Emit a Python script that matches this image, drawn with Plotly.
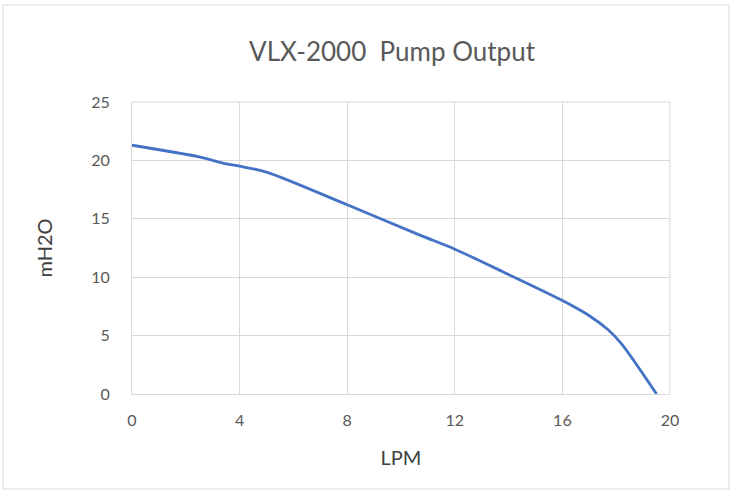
import plotly.graph_objects as go

# Data
lpm = [0, 2.5, 3.5, 4, 5, 8, 10.7, 12, 13.8, 16, 17.0, 17.7, 18.2, 19.5]
mh2o = [21.3, 20.3, 19.7, 19.5, 19.0, 16.2, 13.6, 12.4, 10.45, 8.0, 6.7, 5.5, 4.3, 0.0]

x_ticks = [0, 4, 8, 12, 16, 20]
y_ticks = [0, 5, 10, 15, 20, 25]

title_text = "VLX-2000  Pump Output"
x_title = "LPM"
y_title = "mH2O"

W, H = 731, 491
L, R, T, B = 132, 61, 102, 97
pw = W - L - R
ph = H - T - B

font_family = "Lato, 'Open Sans', sans-serif"
gray = "#595959"
grid = "#d9d9d9"

fig = go.Figure()
fig.add_trace(go.Scatter(
    x=lpm, y=mh2o, mode="lines",
    line=dict(color="#4472C4", width=2.8, shape="spline", smoothing=0.8),
    showlegend=False, hoverinfo="x+y",
))

# outer chart border (pixel positions converted to paper coordinates)
bx0 = (3 - L) / pw
bx1 = (729 - L) / pw
by1 = (H - B - 5) / ph
by0 = (H - B - 489) / ph
fig.add_shape(type="rect", xref="paper", yref="paper",
              x0=bx0, x1=bx1, y0=by0, y1=by1,
              line=dict(color="#d9d9d9", width=1), fillcolor="rgba(0,0,0,0)",
              layer="below")

fig.update_layout(
    width=W, height=H,
    margin=dict(l=L, r=R, t=T, b=B, pad=0),
    paper_bgcolor="white", plot_bgcolor="white",
    font=dict(family=font_family, color=gray, size=16),
    title=dict(text=title_text, x=(392 - L) / pw, xref="paper", xanchor="center",
               y=(H - 52) / H, yanchor="middle", yref="container",
               font=dict(size=26, color=gray, family=font_family)),
)

fig.update_xaxes(
    range=[0, 20], tickvals=x_ticks, ticktext=[str(v) for v in x_ticks],
    showgrid=True, gridcolor=grid, gridwidth=1,
    showline=True, linecolor=grid, linewidth=1, mirror=False,
    zeroline=False, ticks="", ticklabelstandoff=12,
    tickfont=dict(size=16, color=gray),
    title=dict(text=x_title, standoff=22, font=dict(size=20, color="#404040")),
)
fig.update_yaxes(
    range=[0, 25], tickvals=y_ticks, ticktext=[str(v) for v in y_ticks],
    showgrid=True, gridcolor=grid, gridwidth=1,
    showline=True, linecolor=grid, linewidth=1, mirror=False,
    zeroline=False, ticks="", ticklabelstandoff=18,
    tickfont=dict(size=16, color=gray),
    title=dict(text=y_title, standoff=33, font=dict(size=20, color="#404040")),
)
# right and top borders of plot area
fig.add_shape(type="line", xref="paper", yref="paper", x0=1, x1=1, y0=0, y1=1,
              line=dict(color=grid, width=1), layer="below")
fig.add_shape(type="line", xref="paper", yref="paper", x0=0, x1=1, y0=1, y1=1,
              line=dict(color=grid, width=1), layer="below")

fig.write_html("out.html", config={"displayModeBar": False},
               post_script="document.body.style.margin='0';")
